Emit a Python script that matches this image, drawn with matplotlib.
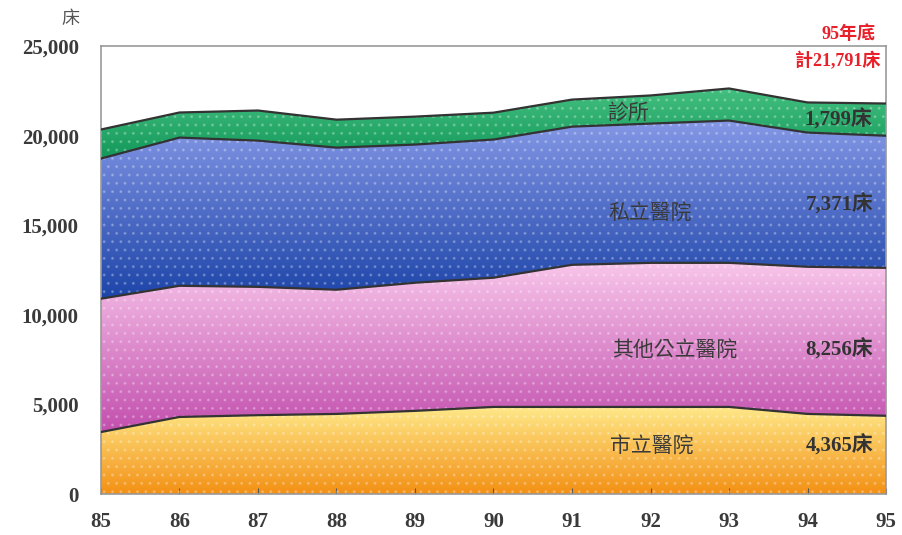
import numpy as np
import matplotlib.pyplot as plt
from matplotlib.colors import LinearSegmentedColormap

plt.rcParams['font.family'] = ['Noto Sans CJK TC', 'DejaVu Sans']

years = ['85', '86', '87', '88', '89', '90', '91', '92', '93', '94', '95']
# beds by type of institution
city_hosp = [3460, 4300, 4400, 4470, 4640, 4860, 4860, 4860, 4860, 4470, 4365]
other_public = [7440, 7320, 7160, 6930, 7150, 7210, 7930, 8040, 8040, 8210, 8256]
private_hosp = [7820, 8270, 8160, 7930, 7710, 7710, 7710, 7770, 7940, 7490, 7371]
clinics = [1620, 1400, 1680, 1560, 1560, 1500, 1510, 1570, 1790, 1680, 1799]

layer_names = ['市立醫院', '其他公立醫院', '私立醫院', '診所']
end_labels = ['4,365床', '8,256床', '7,371床', '1,799床']
total_label = '計21,791床'
year_label = '95年底'

layers = [city_hosp, other_public, private_hosp, clinics]
# (bottom colour, top colour) for each band
grads = [('#f39014', '#ffe98a'),
         ('#c24fae', '#f8c6ea'),
         ('#1c44a8', '#8598e6'),
         ('#12985a', '#44c080')]

fig = plt.figure(figsize=(9.03, 5.35), dpi=100)
ax = fig.add_axes([0.1118, 0.0766, 0.8694, 0.8374])

x = np.arange(len(years))
base = np.zeros(len(years))
for vals, (c0, c1) in zip(layers, grads):
    top = base + np.array(vals)
    poly = ax.fill_between(x, base, top, facecolor='none', zorder=2, hatch='..')
    poly.set_edgecolor((1, 1, 1, 0.22))
    poly.set_linewidth(0)
    cmap = LinearSegmentedColormap.from_list('g', [c0, c1])
    grad = np.linspace(0, 1, 256).reshape(-1, 1)
    im = ax.imshow(grad, cmap=cmap, aspect='auto', origin='lower',
                   extent=[x[0], x[-1], base.min(), top.max()], zorder=1)
    im.set_clip_path(poly.get_paths()[0], transform=ax.transData)
    ax.plot(x, top, color='#333333', lw=1.6, zorder=3)
    base = top

ax.set_xlim(0, len(years) - 1)
ax.set_ylim(0, 25000)
ax.set_xticks(x)
ax.set_xticklabels(years)
ax.set_yticks(range(0, 25001, 5000))
ax.set_yticklabels(['0', '5,000', '10,000', '15,000', '20,000', '25,000'])
for lab in ax.get_xticklabels() + ax.get_yticklabels():
    lab.set_family('Liberation Serif')
    lab.set_fontweight('bold')
    lab.set_fontsize(15)
    lab.set_color('#3a3a3a')
ax.tick_params(axis='x', direction='in', length=4, pad=13, color='#555555')
ax.tick_params(axis='y', length=0, pad=16)
for s in ax.spines.values():
    s.set_color('#999999')
    s.set_linewidth(1.2)

# band names and end values
name_pos = [(7.02, 2680), (7.31, 8045), (6.99, 15700), (6.71, 21300)]
val_pos = [(9.84, 2680), (9.84, 8045), (9.84, 16150), (9.82, 20900)]
for name, lab, (nx, ny), (vx, vy) in zip(layer_names, end_labels, name_pos, val_pos):
    ax.text(nx, ny, name, ha='center', va='center', fontsize=15, color='#3a3a3a', zorder=5)
    ax.text(vx, vy, lab, ha='right', va='center', fontsize=15, fontweight='bold',
            color='#333333', family=['Liberation Serif', 'Noto Sans CJK TC'], zorder=5)

fig.text(0.078, 0.965, '床', ha='center', va='center', fontsize=13, color='#555555')
fig.text(0.94, 0.936, year_label, ha='center', va='center', fontsize=13, fontweight='bold',
         color='#e8202a', family=['Liberation Serif', 'Noto Sans CJK TC'])
fig.text(0.975, 0.886, total_label, ha='right', va='center', fontsize=13, fontweight='bold',
         color='#e8202a', family=['Liberation Serif', 'Noto Sans CJK TC'])

fig.savefig('out.png', dpi=100)
